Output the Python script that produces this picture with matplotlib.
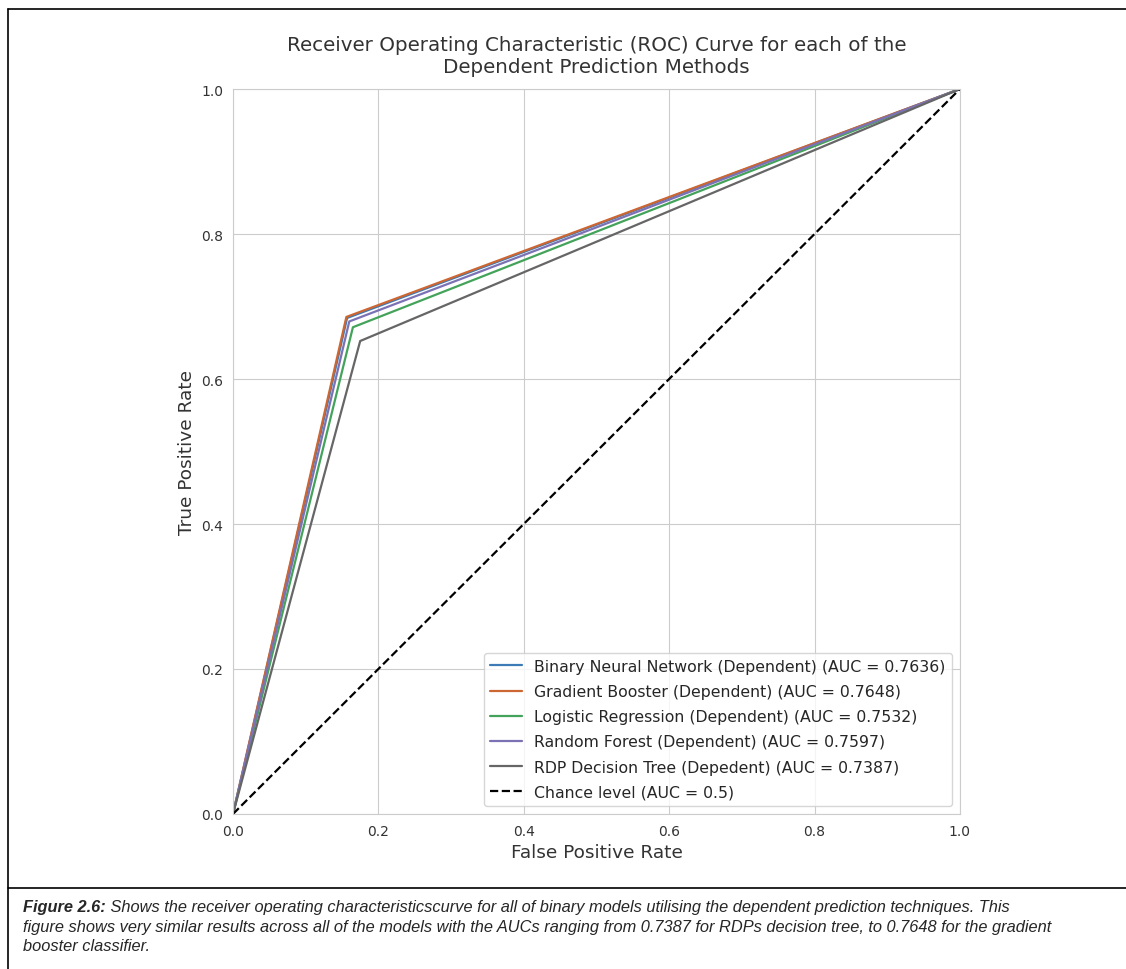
import matplotlib
matplotlib.use("Agg")
from matplotlib import pyplot as plt
from matplotlib.lines import Line2D
import seaborn as sns

# ROC points: each model has a single threshold between (0,0) and (1,1)
models = ["Binary Neural Network (Dependent)",
          "Gradient Booster (Dependent)",
          "Logistic Regression (Dependent)",
          "Random Forest (Dependent)",
          "RDP Decision Tree (Depedent)"]
auc = [0.7636, 0.7648, 0.7532, 0.7597, 0.7387]
fpr_knee = [0.157, 0.156, 0.165, 0.160, 0.175]
tpr_knee = [0.6842, 0.6856, 0.6714, 0.6794, 0.6524]
colors = ['#3c7bb5', '#cc6633', '#44a35a', '#7b72b5', '#666666']

caption_head = "Figure 2.6:"
caption_lines = [
    " Shows the receiver operating characteristicscurve for all of binary models utilising the dependent prediction techniques. This",
    "figure shows very similar results across all of the models with the AUCs ranging from 0.7387 for RDPs decision tree, to 0.7648 for the gradient",
    "booster classifier.",
]

sns.set_style("whitegrid")
plt.rcParams['font.family'] = ['DejaVu Sans']

fig = plt.figure(figsize=(11.26, 9.7), dpi=100)
ax = fig.add_axes([0.2069, 0.1598, 0.6456, 0.7474])

for name, a, fx, ty, c in zip(models, auc, fpr_knee, tpr_knee, colors):
    ax.plot([0, fx, 1], [0, ty, 1], c=c, linewidth=1.6,
            label="%s (AUC = %.4f)" % (name, a))
ax.plot([0, 1], [0, 1], 'k--', linewidth=1.6, label="Chance level (AUC = 0.5)")

ax.set_xlim(0, 1)
ax.set_ylim(0, 1)
ax.set_xticks([0, 0.2, 0.4, 0.6, 0.8, 1.0])
ax.set_yticks([0, 0.2, 0.4, 0.6, 0.8, 1.0])
ax.tick_params(axis='both', labelsize=10, colors='#333333')
ax.set_xlabel("False Positive Rate", fontsize=13.3, color='#333333')
ax.set_ylabel("True Positive Rate", fontsize=13.3, color='#333333')
ax.set_title("Receiver Operating Characteristic (ROC) Curve for each of the\nDependent Prediction Methods",
             fontsize=14.3, color='#333333', pad=12)
for s in ax.spines.values():
    s.set_color('#cccccc')
ax.legend(loc='lower right', fontsize=11.3, frameon=True, borderaxespad=0.5,
          labelspacing=0.65)

# page frame and caption below the chart
fig.add_artist(Line2D([8/1126, 8/1126], [0, 1 - 10/970], color='black', lw=1.2))
fig.add_artist(Line2D([8/1126, 1], [1 - 10/970, 1 - 10/970], color='black', lw=1.2))
fig.add_artist(Line2D([8/1126, 1], [1 - 889/970, 1 - 889/970], color='black', lw=1.2))

cap_font = ['Liberation Sans', 'DejaVu Sans']
cap_size = 11.8
y0 = 1 - 908/970
t1 = fig.text(23/1126, y0, caption_head, fontsize=cap_size, style='italic',
              weight='bold', family=cap_font, va='center')
fig.canvas.draw()
# first caption line continues right after the bold heading
bb = t1.get_window_extent(fig.canvas.get_renderer())
fig.text(bb.x1 / fig.bbox.width, y0, caption_lines[0], fontsize=cap_size,
         style='italic', family=cap_font, va='center')
for i, line in enumerate(caption_lines[1:]):
    fig.text(23/1126, y0 - (i + 1) * 19.5/970, line, fontsize=cap_size, style='italic',
             family=cap_font, va='center')

fig.savefig("out.png", dpi=100)
